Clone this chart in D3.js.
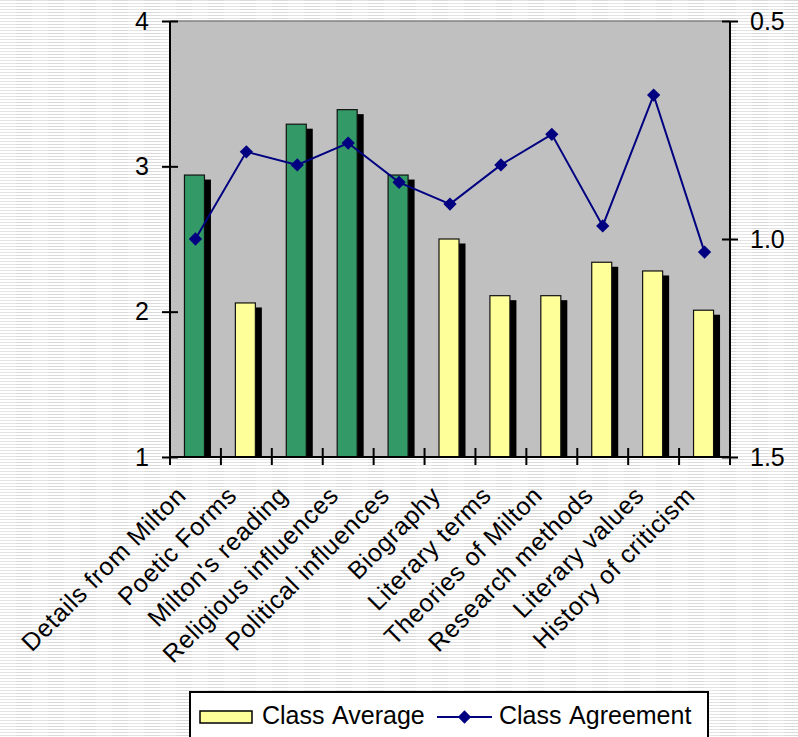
<!DOCTYPE html>
<html><head><meta charset="utf-8">
<script src="https://cdn.jsdelivr.net/npm/d3@7"></script>
<style>html,body{margin:0;padding:0;background:#fff}svg{display:block}</style>
</head><body>
<svg id="c" width="798" height="737"></svg>
<script>
const categories = ["Details from Milton","Poetic Forms","Milton's reading","Religious influences","Political influences","Biography","Literary terms","Theories of Milton","Research methods","Literary values","History of criticism"];
const classAverage = [2.94,2.06,3.29,3.39,2.94,2.50,2.11,2.11,2.34,2.28,2.01];
const barColors = ["#339966","#FFFF99","#339966","#339966","#339966","#FFFF99","#FFFF99","#FFFF99","#FFFF99","#FFFF99","#FFFF99"];
const classAgreement = [1.00,0.80,0.83,0.78,0.87,0.92,0.83,0.76,0.97,0.67,1.03];
const leftTicks = [1,2,3,4];
const rightTicks = [0.5,1.0,1.5];
const legendLabels = ["Class Average","Class Agreement"];

const svg = d3.select("#c");
const font = "'Liberation Sans', Arial, sans-serif";

const defs = svg.append("defs");
const pat = defs.append("pattern").attr("id","bg").attr("patternUnits","userSpaceOnUse").attr("width",32).attr("height",3);
pat.append("rect").attr("width",32).attr("height",3).attr("fill","#fff");
pat.append("rect").attr("x",0).attr("y",0).attr("width",16).attr("height",1).attr("fill","#e4e4e4");
pat.append("rect").attr("x",16).attr("y",0).attr("width",16).attr("height",1).attr("fill","#dadada");
svg.append("rect").attr("width",798).attr("height",737).attr("fill","url(#bg)");

const L = 170, R = 730, T = 21, B = 457;
const x = d3.scaleBand().domain(categories).range([L,R]);
const yL = d3.scaleLinear().domain([1,4]).range([B,T]);
const yR = d3.scaleLinear().domain([0.5,1.5]).range([T,B]);

svg.append("rect").attr("x",L).attr("y",T).attr("width",R-L).attr("height",B-T).attr("fill","#c0c0c0");
svg.append("line").attr("x1",L).attr("x2",R).attr("y1",T).attr("y2",T).attr("stroke","#808080").attr("stroke-width",1.5);

const bw = 20, off = -11;
const g = svg.append("g");
g.selectAll("rect.sh").data(classAverage).join("rect").attr("class","sh")
  .attr("x",(d,i)=>x(categories[i])+x.bandwidth()/2+off+6.5)
  .attr("y",d=>yL(d)+4.5)
  .attr("width",bw).attr("height",d=>B-(yL(d)+4.5)).attr("fill","#000");
g.selectAll("rect.bar").data(classAverage).join("rect").attr("class","bar")
  .attr("x",(d,i)=>x(categories[i])+x.bandwidth()/2+off)
  .attr("y",d=>yL(d))
  .attr("width",bw).attr("height",d=>B-yL(d))
  .attr("fill",(d,i)=>barColors[i]).attr("stroke","#111").attr("stroke-width",1.2);

const cx = i => x(categories[i])+x.bandwidth()/2;
svg.append("path").datum(classAgreement)
  .attr("d",d3.line().x((d,i)=>cx(i)).y(d=>yR(d)))
  .attr("fill","none").attr("stroke","#000080").attr("stroke-width",2);
const sym = d3.symbol().type(d3.symbolSquare).size(88);
svg.selectAll("path.mk").data(classAgreement).join("path").attr("class","mk")
  .attr("d",sym).attr("transform",(d,i)=>`translate(${cx(i)},${yR(d)}) rotate(45)`)
  .attr("fill","#000080");

const axL = svg.append("g").attr("transform",`translate(${L},0)`)
  .call(d3.axisLeft(yL).tickValues(leftTicks).tickFormat(d3.format("d")).tickSize(8).tickPadding(13));
axL.selectAll(".tick line").attr("x1",8);
const axR = svg.append("g").attr("transform",`translate(${R},0)`)
  .call(d3.axisRight(yR).tickValues(rightTicks).tickFormat(d3.format(".1f")).tickSize(8).tickPadding(12));
axR.selectAll(".tick line").attr("x1",-8);
[axL,axR].forEach(a=>{
  a.select(".domain").remove();
  a.selectAll(".tick line").attr("stroke","#000").attr("stroke-width",2);
  a.selectAll("text").attr("font-family",font).attr("font-size",25).attr("fill","#000");
});
svg.append("line").attr("x1",L).attr("x2",L).attr("y1",T).attr("y2",B).attr("stroke","#000").attr("stroke-width",2);
svg.append("line").attr("x1",R).attr("x2",R).attr("y1",T).attr("y2",B).attr("stroke","#000").attr("stroke-width",2);
svg.append("line").attr("x1",L).attr("x2",R).attr("y1",B).attr("y2",B).attr("stroke","#000").attr("stroke-width",2);
const bounds = categories.map(c=>x(c)).concat([x.range()[1]]);
svg.selectAll("line.ct").data(bounds).join("line").attr("class","ct")
  .attr("x1",d=>d).attr("x2",d=>d).attr("y1",B-9).attr("y2",B+8).attr("stroke","#000").attr("stroke-width",2);
svg.selectAll("text.cl").data(categories).join("text").attr("class","cl")
  .attr("transform",(d,i)=>`translate(${cx(i)-8},${B+40}) rotate(-45)`)
  .attr("text-anchor","end").attr("font-family",font).attr("font-size",25).attr("letter-spacing",0.7).attr("fill","#000")
  .text(d=>d);

const lg = svg.append("g");
lg.append("rect").attr("x",190).attr("y",692).attr("width",518).attr("height",70).attr("fill","#fff").attr("stroke","#000").attr("stroke-width",2);
lg.append("rect").attr("x",200).attr("y",711).attr("width",52).attr("height",12).attr("fill","#FFFF99").attr("stroke","#000").attr("stroke-width",1.5);
lg.append("text").attr("x",262).attr("y",724).attr("font-family",font).attr("font-size",25).attr("word-spacing",2).text(legendLabels[0]);
lg.append("line").attr("x1",437).attr("x2",492).attr("y1",717).attr("y2",717).attr("stroke","#000080").attr("stroke-width",2);
lg.append("path").attr("d",sym).attr("transform","translate(464.5,717) rotate(45)").attr("fill","#000080");
lg.append("text").attr("x",499).attr("y",724).attr("font-family",font).attr("font-size",25).attr("word-spacing",2).text(legendLabels[1]);
</script>
</body></html>
